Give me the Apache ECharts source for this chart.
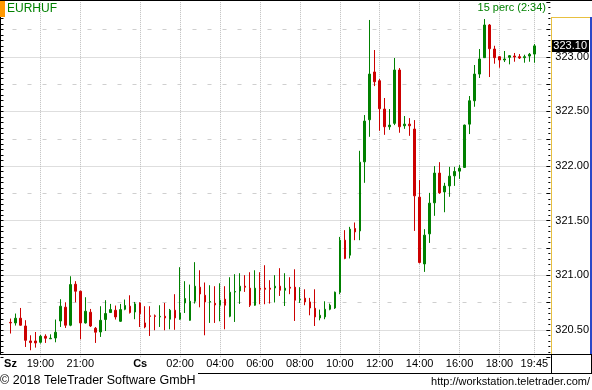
<!DOCTYPE html>
<html><head><meta charset="utf-8">
<script src="https://cdn.jsdelivr.net/npm/echarts@6/dist/echarts.min.js"></script>
<style>html,body{margin:0;padding:0;background:#fff}#c{width:592px;height:390px}</style>
</head><body><div id="c"></div>
<script>
// 15-minute candles, EURHUF, from Wed 17:30 to Thu 19:45
const opens = [
320.57, 320.565, 320.608, 320.537, 320.40, 320.40, 320.388, 320.443, 320.42, 320.427,
320.583, 320.709, 320.544, 320.919, 320.855, 320.565, 320.663, 320.516, 320.482, 320.596,
320.66, 320.681, 320.58, 320.69, 320.718, 320.665, 320.748, 320.565, 320.63, 320.63,
320.62, 320.626, 320.599, 320.681, 320.599, 320.748, 320.589, 320.763, 320.892, 320.818,
320.756, 320.745, 320.727, 320.782, 320.626, 320.848, 320.858, 320.901, 320.883, 320.727,
320.883, 320.883, 320.883, 320.885, 320.901, 320.864, 320.892, 320.892, 320.778, 320.791,
320.757, 320.699, 320.611, 320.62, 320.69, 320.702, 320.846, 321.322, 321.185, 321.429,
321.407, 322.039, 322.424, 322.861, 322.781, 322.522, 322.36, 322.391, 322.879, 322.369,
322.384, 322.339, 321.716, 321.105, 321.38, 321.664, 321.936, 321.764, 321.819, 321.911,
321.954, 321.988, 322.384, 322.598, 322.842, 322.992, 323.291, 323.071, 323.001, 322.971,
322.995, 323.007, 323.001, 322.992, 323.007, 323.025
];
const closes = [
320.565, 320.608, 320.544, 320.406, 320.385, 320.382, 320.443, 320.425, 320.425, 320.48,
320.718, 320.544, 320.916, 320.855, 320.565, 320.672, 320.537, 320.48, 320.589, 320.651,
320.687, 320.62, 320.687, 320.724, 320.66, 320.739, 320.649, 320.528, 320.625, 320.625,
320.625, 320.611, 320.681, 320.611, 320.656, 320.788, 320.763, 320.901, 320.83, 320.757,
320.761, 320.73, 320.773, 320.727, 320.846, 320.852, 320.901, 320.892, 320.727, 320.883,
320.873, 320.873, 320.873, 320.901, 320.864, 320.883, 320.883, 320.773, 320.782, 320.757,
320.702, 320.62, 320.635, 320.69, 320.727, 320.846, 321.322, 321.155, 321.423, 321.398,
322.036, 322.412, 322.842, 322.772, 322.525, 322.36, 322.375, 322.879, 322.36, 322.384,
322.369, 321.728, 321.118, 321.368, 321.661, 321.936, 321.755, 321.817, 321.908, 321.951,
321.981, 322.375, 322.598, 322.842, 322.98, 323.291, 323.074, 322.992, 322.971, 322.98,
323.01, 322.998, 322.989, 323.001, 323.023, 323.10
];
const lows = [
320.468, 320.541, 320.54, 320.345, 320.315, 320.339, 320.376, 320.382, 320.418, 320.388,
320.528, 320.519, 320.535, 320.754, 320.415, 320.559, 320.528, 320.382, 320.437, 320.491,
320.656, 320.596, 320.574, 320.681, 320.651, 320.599, 320.528, 320.516, 320.446, 320.498,
320.528, 320.498, 320.507, 320.502, 320.594, 320.656, 320.585, 320.742, 320.708, 320.452,
320.565, 320.565, 320.58, 320.507, 320.617, 320.574, 320.739, 320.849, 320.711, 320.722,
320.736, 320.736, 320.742, 320.752, 320.812, 320.72, 320.828, 320.583, 320.748, 320.727,
320.635, 320.537, 320.589, 320.599, 320.681, 320.693, 320.828, 321.148, 321.155, 321.322,
321.322, 321.847, 322.268, 322.732, 322.323, 322.286, 322.332, 322.375, 322.305, 322.341,
322.277, 321.407, 321.109, 321.032, 321.297, 321.545, 321.746, 321.578, 321.719, 321.819,
321.883, 321.984, 322.293, 322.543, 322.806, 322.99, 322.815, 322.937, 322.90, 322.952,
322.931, 322.955, 322.98, 322.946, 322.955, 322.946
];
const highs = [
320.605, 320.651, 320.702, 320.59, 320.452, 320.482, 320.455, 320.461, 320.461, 320.596,
320.782, 320.754, 320.992, 320.947, 320.86, 320.80, 320.693, 320.528, 320.718, 320.773,
320.739, 320.724, 320.739, 320.779, 320.818, 320.757, 320.754, 320.718, 320.718, 320.642,
320.727, 320.748, 320.693, 320.828, 321.075, 320.947, 320.916, 321.121, 321.047, 320.935,
320.91, 320.901, 320.928, 320.901, 320.983, 321.011, 321.02, 321.002, 321.029, 321.047,
321.029, 321.093, 320.956, 321.002, 321.066, 321.02, 320.983, 321.056, 320.892, 320.873,
320.794, 320.873, 320.687, 320.763, 320.742, 320.852, 321.352, 321.414, 321.444, 321.484,
322.14, 322.467, 323.337, 323.062, 322.797, 322.623, 322.522, 322.989, 322.897, 322.458,
322.439, 322.421, 321.872, 321.423, 321.755, 322.0, 322.036, 321.847, 321.993, 321.993,
322.009, 322.38, 322.641, 322.925, 323.071, 323.346, 323.30, 323.101, 323.007, 323.053,
323.016, 323.035, 323.025, 323.019, 323.035, 323.117
];

// category slots (15 min), Wed (Sz) 17:00 .. Thu (Cs) 20:30
const times = [];
for (let i = 0; i <= 110; i++) {
  const t = 17 * 60 + i * 15;
  const day = t >= 1440 ? 'Cs' : 'Sz';
  const m = t % 1440;
  times.push(day + ' ' + String(Math.floor(m / 60)).padStart(2, '0') + ':' + String(m % 60).padStart(2, '0'));
}
const firstCandle = 'Sz 17:30';

const xLabelTimes = ['Sz 17:30','Sz 19:00','Sz 21:00','Cs 00:00','Cs 02:00','Cs 04:00','Cs 06:00','Cs 08:00','Cs 10:00','Cs 12:00','Cs 14:00','Cs 16:00','Cs 18:00','Cs 19:45'];
const xLabelTexts = ['Sz','19:00','21:00','Cs','02:00','04:00','06:00','08:00','10:00','12:00','14:00','16:00','18:00','19:45'];
const boldLabels = ['Sz','Cs'];
const xGridTimes = xLabelTimes.slice(1);
const yTickLabels = ['320.50','321.00','321.50','322.00','322.50','323.00'];

const title = 'EURHUF';
const periodText = '15 perc (2:34)';
const copyright = '\u00A9 2018 TeleTrader Software GmbH';
const url = 'http://workstation.teletrader.com/';

const startIdx = times.indexOf(firstCandle);
const candleData = times.map((t, i) => {
  const j = i - startIdx;
  return (j >= 0 && j < opens.length) ? [opens[j], closes[j], lows[j], highs[j]] : '-';
});
const lastClose = closes[closes.length - 1];

const GREEN = '#008000', RED = '#cc0000';
const FONT = 'Liberation Sans, Arial, sans-serif';
const TR = 'rgba(0,0,0,0)';

const chart = echarts.init(document.getElementById('c'), null, { renderer: 'canvas' });

function line(x1, y1, x2, y2, color, w) {
  return { type: 'line', z: 100, silent: true, shape: { x1, y1, x2, y2 }, style: { stroke: color, lineWidth: w || 1 } };
}
function text(str, x, y, align, color, size, weight) {
  return { type: 'text', z: 100, silent: true, x, y, style: { text: str, fill: color, font: (weight || 'normal') + ' ' + size + 'px ' + FONT, textAlign: align, textVerticalAlign: 'middle' } };
}

chart.setOption({
  animation: false,
  backgroundColor: '#fff',
  grid: { left: 0.5, width: 550, top: 2.16, height: 355.2, containLabel: false },
  xAxis: {
    type: 'category',
    data: times,
    boundaryGap: false,
    offset: -3,
    axisLine: { show: false },
    axisTick: { show: false },
    axisLabel: {
      interval: (i, v) => xLabelTimes.includes(v),
      formatter: (v) => {
        const t = xLabelTexts[xLabelTimes.indexOf(v)];
        return boldLabels.includes(t) ? '{b|' + t + '}' : t;
      },
      color: '#000', fontSize: 11, fontFamily: FONT, margin: 4,
      rich: { b: { fontWeight: 'bold', fontSize: 11, fontFamily: FONT, color: '#000' } }
    },
    splitLine: {
      show: true,
      interval: (i, v) => xGridTimes.includes(v),
      lineStyle: { type: [1, 1], color: '#bdbdbd', width: 1 }
    }
  },
  yAxis: [
    {
      type: 'value', position: 'right', min: 320.25, max: 323.5, interval: 0.25, offset: 1,
      axisLine: { show: false },
      axisTick: { show: true, inside: true, length: 4, lineStyle: { color: '#000' } },
      minorTick: { show: true, splitNumber: 5, length: 2, lineStyle: { color: '#000' } },
      axisLabel: {
        formatter: (v) => yTickLabels.includes(v.toFixed(2)) ? v.toFixed(2) : '',
        color: '#000', fontSize: 11, fontFamily: FONT, margin: 5
      },
      splitLine: { show: true, showMinLine: false, showMaxLine: false, lineStyle: { type: [1, 1], color: ['#bdbdbd', TR] } }
    },
    {
      type: 'value', position: 'left', min: 320.25, max: 323.5, interval: 0.25,
      axisLine: { show: false },
      axisTick: { show: true, inside: true, length: 3, lineStyle: { color: '#000' } },
      minorTick: { show: true, splitNumber: 5, length: 3, lineStyle: { color: '#000' } },
      axisLabel: { show: false },
      splitLine: { show: true, showMinLine: false, showMaxLine: false, lineStyle: { type: [4, 11], dashOffset: 3, color: [TR, '#cfcfcf'] } }
    }
  ],
  series: [{
    type: 'candlestick',
    yAxisIndex: 0,
    data: candleData,
    barWidth: 2,
    itemStyle: { color: GREEN, color0: RED, borderColor: GREEN, borderColor0: RED, borderWidth: 1 },
    markLine: {
      silent: true, symbol: 'none', animation: false,
      lineStyle: { color: TR, width: 0 },
      data: [{ yAxis: lastClose }],
      label: {
        show: true, position: 'end', distance: 2,
        formatter: () => lastClose.toFixed(2),
        backgroundColor: '#000', color: '#fff', fontSize: 11, fontFamily: FONT,
        padding: [1, 2, 0, 2]
      }
    }
  }],
  graphic: [
    { type: 'rect', z: 100, silent: true, shape: { x: 0, y: 0, width: 5, height: 17 }, style: { fill: '#ff9900' } },
    line(0, 0.5, 592, 0.5, '#000'),
    line(0.5, 17, 0.5, 354, '#000'),
    line(551.5, 17, 551.5, 354, '#e8c040'),
    line(551, 17.5, 590, 17.5, '#e8c040'),
    { type: 'rect', z: 100, silent: true, shape: { x: 590, y: 17, width: 2, height: 337 }, style: { fill: '#2a48c8' } },
    line(0, 354.5, 592, 354.5, '#000'),
    line(198, 373.5, 592, 373.5, '#000'),
    line(551.5, 354, 551.5, 374, '#000'),
    line(591.5, 354, 591.5, 374, '#000'),
    text(title, 7, 9, 'left', GREEN, 12),
    text(periodText, 546, 8, 'right', GREEN, 11),
    text(copyright, 0, 381, 'left', '#000', 12.5),
    text(url, 590, 382, 'right', '#000', 11)
  ]
});
</script>
</body></html>
